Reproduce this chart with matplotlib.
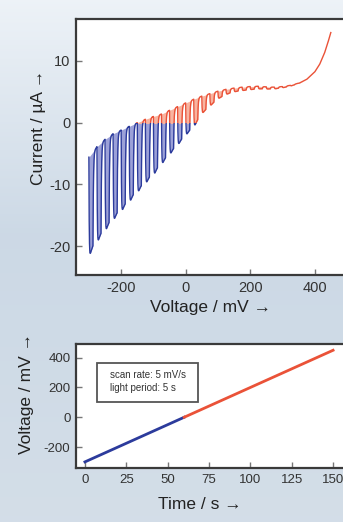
import numpy as np
import matplotlib
matplotlib.use("Agg")
import matplotlib.pyplot as plt
from matplotlib.patches import Rectangle

plt.rcParams['font.family'] = ['Liberation Sans', 'DejaVu Sans']
plt.rcParams['axes.unicode_minus'] = False

# ---------------- data ----------------
# dark-current envelope of the chopped-light scan (mV, uA)
dark_v = [-300, -275, -250, -225, -200, -175, -150, -125, -100, -75, -50, -25, 0,
          25, 50, 75, 100, 125, 150, 175, 200, 225, 250, 275, 300, 325, 350, 375,
          400, 415, 430, 440, 450]
dark_i = [-5.6, -3.9, -2.7, -1.8, -1.2, -0.6, 0.0, 0.55, 1.0, 1.4, 2.0, 2.6, 3.2,
          3.8, 4.3, 4.7, 5.1, 5.4, 5.6, 5.75, 5.85, 5.9, 5.8, 5.75, 5.85, 6.05, 6.4, 7.0,
          8.2, 9.4, 11.2, 12.8, 14.6]
# photocurrent amplitude (light-on tips below the dark envelope)
photo_v = [-300, -275, -250, -225, -200, -175, -150, -125, -100, -75, -50, -25, 0,
           25, 50, 75, 100, 125, 150, 175, 200, 225, 250, 275, 300, 325, 350, 375, 450]
photo_amp = [17.4, 16.8, 16.1, 15.2, 14.3, 13.3, 12.3, 11.3, 10.3, 8.85, 7.8, 6.8, 5.7,
             4.9, 3.1, 2.2, 1.35, 0.9, 0.65, 0.6, 0.55, 0.45, 0.38, 0.3, 0.22, 0.13, 0.06, 0.0, 0.0]

scan_rate = 5.0          # mV/s
light_period = 5.0       # s
scan_start, scan_end = -300, 450

# applied potential vs time
scan_time = [0, 60, 150]
scan_voltage = [-300, 0, 450]

info_lines = ["scan rate: 5 mV/s", "light period: 5 s"]

# ---------------- build chopped trace ----------------
V = np.linspace(scan_start, scan_end, 15001)
t = (V - scan_start) / scan_rate
phase = np.mod(t, light_period)
half = light_period / 2
on = phase < half
tr, td, toff, rec = 0.2, 1.0, 0.3, 0.12
s_on = (1 - np.exp(-phase / tr)) * (1 - rec * (1 - np.exp(-phase / td)))
s_end = (1 - np.exp(-half / tr)) * (1 - rec * (1 - np.exp(-half / td)))
s_off = s_end * np.exp(-(phase - half) / toff)
s = np.where(on, s_on, s_off)
dark = np.interp(V, dark_v, dark_i)
amp = np.interp(V, photo_v, photo_amp)
I = dark - amp * s

# ---------------- figure ----------------
W, H = 343, 522
fig = plt.figure(figsize=(W / 100, H / 100), dpi=100)

# background imitation (bluish photo backdrop)
bg = fig.add_axes([0, 0, 1, 1], zorder=-10)
c_top = np.array([0.93, 0.95, 0.97])
c_mid = np.array([0.80, 0.85, 0.90])
c_bot = np.array([0.83, 0.87, 0.91])
rows = []
for g in np.linspace(0, 1, 256):
    if g < 0.45:
        rows.append(c_top + (c_mid - c_top) * g / 0.45)
    else:
        rows.append(c_mid + (c_bot - c_mid) * (g - 0.45) / 0.55)
img = np.array(rows)[:, None, :].repeat(2, axis=1)
bg.imshow(img, aspect='auto', extent=[0, 1, 0, 1], origin='upper')
bg.set_axis_off()

blue = '#2c3b9c'
blue_fill = '#9ca1d8'
red = '#ea5238'
red_fill = '#f8b4a0'
spine_c = '#3a3a3a'
tick_c = '#333333'

def px_axes(left, top, right, bottom):
    return fig.add_axes([left / W, 1 - bottom / H, (right - left) / W, (bottom - top) / H])

def style(ax, fs):
    ax.set_facecolor('white')
    for sp in ax.spines.values():
        sp.set_color(spine_c)
        sp.set_linewidth(1.6)
    ax.spines['right'].set_visible(False)
    ax.tick_params(direction='in', length=4, width=1, color='#777777',
                   labelsize=fs, labelcolor=tick_c, pad=4)
    ax.tick_params(axis='y', right=False)

# ---- upper panel ----
ax1 = px_axes(76, 19, 345, 275)
style(ax1, 10.5)
ax1.set_xlim(-340, 494)
ax1.set_ylim(-24.7, 16.8)
ax1.set_xticks([-200, 0, 200, 400])
ax1.set_yticks([-20, -10, 0, 10])

neg_clip = Rectangle((-1000, -100), 3000, 100, transform=ax1.transData)
pos_clip = Rectangle((-1000, 0), 3000, 100, transform=ax1.transData)

f1 = ax1.fill_between(V, I, dark, color=blue_fill, linewidth=0)
f1.set_clip_path(neg_clip)
f2 = ax1.fill_between(V, I, dark, color=red_fill, linewidth=0)
f2.set_clip_path(pos_clip)
l1, = ax1.plot(V, I, color=blue, lw=1.0)
l1.set_clip_path(neg_clip)
l2, = ax1.plot(V, I, color=red, lw=1.0)
l2.set_clip_path(pos_clip)

ax1.set_xlabel('Voltage / mV \u2192', fontsize=12.5, color='#222222')
ax1.xaxis.set_label_coords(0.5, -(300 - 275) / 256)
ax1.set_ylabel('Current / \u00b5A \u2192', fontsize=12.5, color='#222222')
ax1.yaxis.set_label_coords((46.5 - 76) / 269, (275 - 127) / 256)

# ---- lower panel ----
ax2 = px_axes(76, 344, 345, 468)
style(ax2, 9.5)
ax2.set_xlim(-5.4, 157.2)
ax2.set_ylim(-341, 492)
ax2.set_xticks([0, 25, 50, 75, 100, 125, 150])
ax2.set_yticks([-200, 0, 200, 400])
ax2.plot(scan_time[0:2], scan_voltage[0:2], color=blue, lw=2)
ax2.plot(scan_time[1:3], scan_voltage[1:3], color=red, lw=2)
ax2.set_xlabel('Time / s \u2192', fontsize=12.5, color='#222222')
ax2.xaxis.set_label_coords((200 - 76) / 269, -(497 - 468) / 124)
ax2.set_ylabel('Voltage / mV \u2192', fontsize=12.5, color='#222222')
ax2.yaxis.set_label_coords((33.5 - 76) / 269, (468 - 394) / 124)

box = Rectangle((97 / W, 1 - 402 / H), (198 - 97) / W, (402 - 363) / H,
                transform=fig.transFigure, fill=False, edgecolor='#555555', lw=1.3)
fig.patches.append(box)
fig.text(110 / W, 1 - 375 / H, info_lines[0], fontsize=7, color='#333333', va='center')
fig.text(110 / W, 1 - 388 / H, info_lines[1], fontsize=7, color='#333333', va='center')

fig.savefig('out.png', dpi=100)
